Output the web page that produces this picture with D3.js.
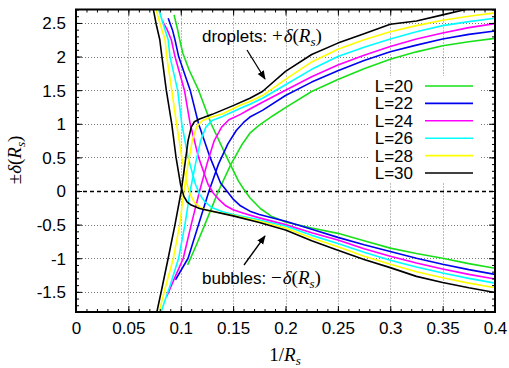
<!DOCTYPE html>
<html><head><meta charset="utf-8">
<script src="https://cdn.jsdelivr.net/npm/d3@7"></script>
<style>
html,body{margin:0;padding:0;background:#fff;}
svg{display:block;}
</style></head>
<body>
<svg id="chart" width="509" height="368"></svg>
<script>
// ---- data ----
const seriesL = [20, 22, 24, 26, 28, 30];
const seriesColors = ["#18e018", "#0000f0", "#ff00ff", "#00ffff", "#ffff00", "#000000"];
const xTickValues = [0, 0.05, 0.1, 0.15, 0.2, 0.25, 0.3, 0.35, 0.4];
const xTickLabels = ["0", "0.05", "0.1", "0.15", "0.2", "0.25", "0.3", "0.35", "0.4"];
const yTickValues = [-1.5, -1, -0.5, 0, 0.5, 1, 1.5, 2, 2.5];
const yTickLabels = ["-1.5", "-1", "-0.5", "0", "0.5", "1", "1.5", "2", "2.5"];

// branch descending from the top-left into the bubble line, per L
const down20 = [[0.0936,2.62],[0.097,2.4],[0.099,2.25],[0.102,2.05],[0.108,1.8],[0.117,1.5],[0.129,1.0],[0.144,0.5],[0.155,0.15],[0.16,0.03],[0.166,-0.1],[0.176,-0.26],[0.187,-0.38],[0.2,-0.46],[0.225,-0.55],[0.25,-0.63],[0.275,-0.74],[0.3,-0.85],[0.325,-0.93],[0.35,-1.0],[0.375,-1.08],[0.4,-1.15]];
const down22 = [[0.088,2.57],[0.092,2.4],[0.0945,2.25],[0.098,2.0],[0.109,1.5],[0.117,1.0],[0.128,0.5],[0.138,0.12],[0.144,0.0],[0.150,-0.12],[0.157,-0.22],[0.166,-0.30],[0.175,-0.35],[0.2,-0.45],[0.225,-0.57],[0.25,-0.69],[0.275,-0.80],[0.3,-0.90],[0.325,-1.0],[0.35,-1.09],[0.375,-1.17],[0.4,-1.24]];
const down24 = [[0.0824,2.53],[0.087,2.4],[0.091,2.25],[0.0945,2.0],[0.1035,1.5],[0.109,1.0],[0.117,0.5],[0.126,0.1],[0.131,-0.03],[0.136,-0.12],[0.143,-0.22],[0.15,-0.28],[0.16,-0.33],[0.175,-0.40],[0.2,-0.50],[0.225,-0.62],[0.25,-0.73],[0.275,-0.86],[0.3,-0.97],[0.325,-1.07],[0.35,-1.16],[0.375,-1.24],[0.4,-1.31]];
const down26 = [[0.078,2.75],[0.083,2.5],[0.088,2.25],[0.0897,2.0],[0.097,1.5],[0.101,1.0],[0.107,0.5],[0.114,0.1],[0.118,-0.05],[0.123,-0.16],[0.13,-0.25],[0.14,-0.31],[0.15,-0.35],[0.175,-0.43],[0.2,-0.52],[0.225,-0.66],[0.25,-0.78],[0.275,-0.91],[0.3,-1.03],[0.325,-1.13],[0.35,-1.22],[0.375,-1.3],[0.4,-1.37]];
const down28 = [[0.0755,2.75],[0.080,2.5],[0.085,2.25],[0.0866,2.0],[0.0914,1.5],[0.096,1.0],[0.101,0.5],[0.106,0.1],[0.109,-0.05],[0.113,-0.17],[0.118,-0.24],[0.125,-0.29],[0.15,-0.36],[0.175,-0.45],[0.2,-0.55],[0.225,-0.70],[0.25,-0.83],[0.275,-0.97],[0.3,-1.09],[0.325,-1.2],[0.35,-1.29],[0.375,-1.37],[0.4,-1.44]];
const down30 = [[0.0732,2.75],[0.077,2.45],[0.080,2.25],[0.082,2.0],[0.0862,1.5],[0.0914,1.0],[0.0955,0.5],[0.1,0.08],[0.103,-0.08],[0.106,-0.16],[0.110,-0.21],[0.118,-0.26],[0.15,-0.37],[0.175,-0.47],[0.2,-0.58],[0.225,-0.74],[0.25,-0.88],[0.275,-1.02],[0.3,-1.14],[0.325,-1.27],[0.35,-1.36],[0.375,-1.44],[0.4,-1.51]];

// branch rising from the bottom-left into the droplet line, per L
const up20 = [[0.1066,-1.1],[0.115,-0.8],[0.123,-0.5],[0.136,0.0],[0.148,0.4],[0.158,0.68],[0.166,0.86],[0.175,0.98],[0.188,1.12],[0.2,1.24],[0.225,1.48],[0.25,1.66],[0.275,1.82],[0.3,1.96],[0.325,2.07],[0.35,2.16],[0.375,2.22],[0.4,2.27]];
const up22 = [[0.095,-1.32],[0.107,-1.0],[0.117,-0.5],[0.127,0.0],[0.136,0.4],[0.145,0.7],[0.153,0.9],[0.16,1.02],[0.166,1.1],[0.178,1.2],[0.2,1.42],[0.225,1.62],[0.25,1.79],[0.275,1.94],[0.3,2.07],[0.325,2.17],[0.35,2.26],[0.375,2.33],[0.4,2.38]];
const up24 = [[0.0866,-1.57],[0.094,-1.3],[0.1024,-1.0],[0.110,-0.5],[0.118,0.0],[0.125,0.4],[0.132,0.75],[0.139,0.95],[0.146,1.06],[0.157,1.14],[0.166,1.22],[0.178,1.32],[0.2,1.5],[0.225,1.7],[0.25,1.875],[0.275,2.02],[0.3,2.15],[0.325,2.26],[0.35,2.35],[0.375,2.43],[0.4,2.49]];
const up26 = [[0.0812,-1.8],[0.09,-1.4],[0.098,-1.0],[0.104,-0.5],[0.109,0.0],[0.114,0.4],[0.119,0.75],[0.124,0.95],[0.13,1.05],[0.14,1.11],[0.157,1.23],[0.166,1.29],[0.178,1.38],[0.2,1.58],[0.225,1.81],[0.25,2.0],[0.275,2.14],[0.3,2.26],[0.325,2.37],[0.35,2.46],[0.375,2.52],[0.4,2.57]];
const up28 = [[0.0785,-1.85],[0.085,-1.45],[0.093,-1.0],[0.099,-0.5],[0.103,0.0],[0.107,0.4],[0.111,0.75],[0.115,0.95],[0.12,1.04],[0.127,1.09],[0.14,1.15],[0.157,1.28],[0.166,1.33],[0.178,1.42],[0.2,1.66],[0.225,1.92],[0.25,2.11],[0.275,2.25],[0.3,2.37],[0.325,2.46],[0.35,2.54],[0.375,2.6],[0.4,2.65]];
const up30 = [[0.0765,-1.85],[0.082,-1.45],[0.088,-1.0],[0.0945,-0.5],[0.1005,0.0],[0.104,0.4],[0.107,0.75],[0.110,0.95],[0.113,1.03],[0.118,1.07],[0.13,1.14],[0.15,1.27],[0.166,1.38],[0.178,1.48],[0.2,1.78],[0.225,2.03],[0.25,2.2],[0.275,2.34],[0.3,2.48],[0.325,2.53],[0.35,2.62],[0.375,2.71],[0.4,2.78]];

const downBranches = [down20, down22, down24, down26, down28, down30];
const upBranches = [up20, up22, up24, up26, up28, up30];

// ---- drawing ----
const svg = d3.select("#chart");
const W = 509, H = 368;
const pL = 76, pR = 495, pT = 9.5, pB = 312;
const x = d3.scaleLinear().domain([0, 0.4]).range([pL, pR]);
const y = d3.scaleLinear().domain([-1.8, 2.7]).range([pB, pT]);

svg.append("rect").attr("width", W).attr("height", H).attr("fill", "#fff");

const defs = svg.append("defs");
defs.append("clipPath").attr("id", "plotclip")
  .append("rect").attr("x", pL).attr("y", pT).attr("width", pR - pL).attr("height", pB - pT);

// grid
const grid = svg.append("g").attr("stroke", "#7a7a7a").attr("stroke-width", 1).attr("stroke-dasharray", "1,2");
grid.selectAll("line.gx").data(xTickValues.filter(v => v > 0 && v < 0.4)).join("line")
  .attr("class", "gx")
  .attr("x1", d => Math.round(x(d)) + 0.5).attr("x2", d => Math.round(x(d)) + 0.5)
  .attr("y1", pT).attr("y2", pB);
grid.selectAll("line.gy").data(yTickValues.filter(v => v !== 0)).join("line")
  .attr("class", "gy")
  .attr("x1", pL).attr("x2", pR)
  .attr("y1", d => Math.round(y(d)) + 0.5).attr("y2", d => Math.round(y(d)) + 0.5);

// dashed zero line
svg.append("line").attr("x1", pL).attr("x2", pR)
  .attr("y1", Math.round(y(0)) + 0.5).attr("y2", Math.round(y(0)) + 0.5)
  .attr("stroke", "#000").attr("stroke-width", 1.3).attr("stroke-dasharray", "4,3");

// legend background box (hides grid)
const legX = 413, legY0 = 86, legDy = 17.4;
svg.append("rect").attr("x", 370).attr("y", 76).attr("width", 111).attr("height", 107).attr("fill", "#fff");

// curves
const line = d3.line().x(d => x(d[0])).y(d => y(d[1]));
const curves = svg.append("g").attr("clip-path", "url(#plotclip)").attr("fill", "none").attr("stroke-width", 1.6)
  .attr("stroke-linejoin", "round");
seriesL.forEach((L, i) => {
  curves.append("path").datum(downBranches[i]).attr("d", line).attr("stroke", seriesColors[i]);
  curves.append("path").datum(upBranches[i]).attr("d", line).attr("stroke", seriesColors[i]);
});

// legend
const leg = svg.append("g").attr("font-family", "Liberation Sans, Arial, sans-serif").attr("font-size", 17);
seriesL.forEach((L, i) => {
  const yy = legY0 + i * legDy;
  leg.append("text").attr("x", legX).attr("y", yy + 6).attr("text-anchor", "end").text("L=" + L);
  leg.append("line").attr("x1", 425).attr("x2", 473).attr("y1", yy).attr("y2", yy)
    .attr("stroke", seriesColors[i]).attr("stroke-width", 1.6);
});

// axes: ticks inward on all four sides
function minorVals(lo, hi, step) {
  const out = [];
  for (let k = Math.round(lo / step); k * step <= hi + 1e-9; k++) out.push(+(k * step).toFixed(4));
  return out;
}
const xMinor = minorVals(0, 0.4, 0.01);
const yMinor = minorVals(-1.8, 2.7, 0.1);

const axB = svg.append("g").attr("transform", `translate(0,${pB})`)
  .call(d3.axisBottom(x).tickValues(xTickValues).tickFormat((d, i) => xTickLabels[i]).tickSizeInner(-6).tickSizeOuter(0).tickPadding(10));
const axBm = svg.append("g").attr("transform", `translate(0,${pB})`)
  .call(d3.axisBottom(x).tickValues(xMinor).tickFormat("").tickSizeInner(-3).tickSizeOuter(0));
const axT = svg.append("g").attr("transform", `translate(0,${pT})`)
  .call(d3.axisTop(x).tickValues(xTickValues).tickFormat("").tickSizeInner(-6).tickSizeOuter(0));
const axTm = svg.append("g").attr("transform", `translate(0,${pT})`)
  .call(d3.axisTop(x).tickValues(xMinor).tickFormat("").tickSizeInner(-3).tickSizeOuter(0));
const axLf = svg.append("g").attr("transform", `translate(${pL},0)`)
  .call(d3.axisLeft(y).tickValues(yTickValues).tickFormat((d, i) => yTickLabels[i]).tickSizeInner(-6).tickSizeOuter(0).tickPadding(10));
const axLm = svg.append("g").attr("transform", `translate(${pL},0)`)
  .call(d3.axisLeft(y).tickValues(yMinor).tickFormat("").tickSizeInner(-3).tickSizeOuter(0));
const axRt = svg.append("g").attr("transform", `translate(${pR},0)`)
  .call(d3.axisRight(y).tickValues(yTickValues).tickFormat("").tickSizeInner(-6).tickSizeOuter(0));
const axRm = svg.append("g").attr("transform", `translate(${pR},0)`)
  .call(d3.axisRight(y).tickValues(yMinor).tickFormat("").tickSizeInner(-3).tickSizeOuter(0));
[axB, axBm, axT, axTm, axLf, axLm, axRt, axRm].forEach(g => {
  g.select(".domain").remove();
  g.selectAll(".tick line").attr("stroke", "#000").attr("stroke-width", 1);
  g.selectAll("text").attr("font-family", "Liberation Sans, Arial, sans-serif").attr("font-size", 17).attr("fill", "#000");
});
axB.selectAll("text").attr("dy", "0.71em");
axLf.selectAll("text").attr("dy", "0.35em");

// frame
svg.append("rect").attr("x", pL).attr("y", pT).attr("width", pR - pL).attr("height", pB - pT)
  .attr("fill", "none").attr("stroke", "#000").attr("stroke-width", 2);

// axis titles (math style)
const serif = "Liberation Serif, DejaVu Serif, serif";
const xl = svg.append("text").attr("x", 285).attr("y", 361).attr("text-anchor", "middle")
  .attr("font-family", serif).attr("font-size", 19);
xl.append("tspan").text("1/");
xl.append("tspan").attr("font-style", "italic").text("R");
xl.append("tspan").attr("font-style", "italic").attr("font-size", 13).attr("dy", 4).text("s");

const yl = svg.append("text").attr("transform", "translate(21,160) rotate(-90)").attr("text-anchor", "middle")
  .attr("font-family", serif).attr("font-size", 19);
yl.append("tspan").text("±");
yl.append("tspan").attr("font-style", "italic").text("δ");
yl.append("tspan").text("(");
yl.append("tspan").attr("font-style", "italic").text("R");
yl.append("tspan").attr("font-style", "italic").attr("font-size", 13).attr("dy", 4).text("s");
yl.append("tspan").attr("dy", -4).text(")");

// annotations
function annot(tx, ty, word, sign) {
  const t = svg.append("text").attr("x", tx).attr("y", ty).attr("font-family", "Liberation Sans, Arial, sans-serif").attr("font-size", 17);
  t.append("tspan").text(word + " ");
  t.append("tspan").attr("font-family", serif).attr("font-size", 19).text(sign);
  t.append("tspan").attr("font-family", serif).attr("font-size", 19).attr("font-style", "italic").attr("dx", 1).text("δ");
  t.append("tspan").attr("font-family", serif).attr("font-size", 19).text("(");
  t.append("tspan").attr("font-family", serif).attr("font-size", 19).attr("font-style", "italic").text("R");
  t.append("tspan").attr("font-family", serif).attr("font-size", 13).attr("font-style", "italic").attr("dy", 4).text("s");
  t.append("tspan").attr("font-family", serif).attr("font-size", 19).attr("dy", -4).text(")");
}
annot(202, 42, "droplets:", "+");
annot(202, 284, "bubbles:", "−");

// arrows
defs.append("marker").attr("id", "ah").attr("viewBox", "0 0 10 10").attr("refX", 9).attr("refY", 5)
  .attr("markerWidth", 9).attr("markerHeight", 9).attr("markerUnits", "userSpaceOnUse").attr("orient", "auto")
  .append("path").attr("d", "M0,1 L10,5 L0,9 Z").attr("fill", "#000");
svg.append("line").attr("x1", 247).attr("y1", 50).attr("x2", 265).attr("y2", 79)
  .attr("stroke", "#000").attr("stroke-width", 1.3).attr("marker-end", "url(#ah)");
svg.append("line").attr("x1", 244).attr("y1", 265).attr("x2", 265).attr("y2", 236)
  .attr("stroke", "#000").attr("stroke-width", 1.3).attr("marker-end", "url(#ah)");
</script>
</body></html>
